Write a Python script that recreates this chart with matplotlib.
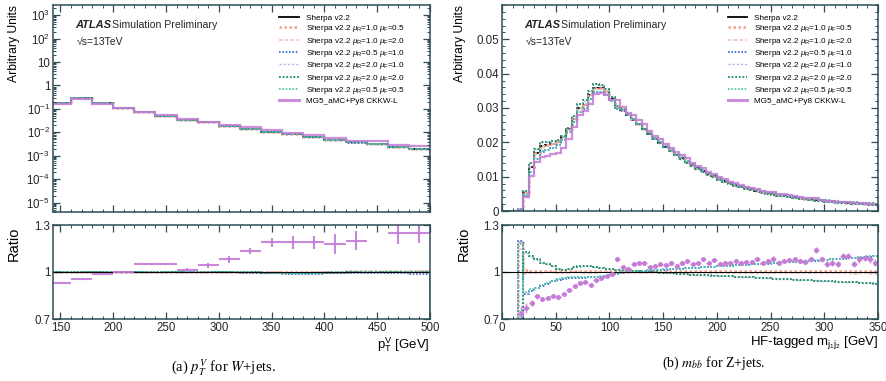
import numpy as np
import matplotlib
matplotlib.use('Agg')
from matplotlib import pyplot as plt
from matplotlib.ticker import MultipleLocator, LogLocator, FixedLocator, FuncFormatter, NullFormatter

plt.rcParams.update({'font.family': ['Liberation Sans', 'DejaVu Sans'],
                     'mathtext.fontset': 'custom',
                     'mathtext.rm': 'Liberation Sans',
                     'mathtext.it': 'Liberation Sans:italic',
                     'mathtext.bf': 'Liberation Sans:bold',
                     'mathtext.sf': 'Liberation Sans',
                     'font.size': 8})

# ---------------- (a) pT^V for W+jets, 20 GeV bins ----------------
ptv_edges = np.arange(140, 501, 20)
ptv_sherpa = [0.17, 0.28, 0.17, 0.11, 0.072, 0.052, 0.035, 0.027, 0.019,
              0.0144, 0.0107, 0.0082, 0.0063, 0.0049, 0.0037, 0.0031, 0.0024, 0.0020]
# ratios to nominal Sherpa v2.2
ptv_r1f05 = [1.0, 1.0, 1.0, 1.0, 1.0, 1.0, 1.0, 1.0, 1.0,
             1.0, 1.0, 1.0, 1.0, 1.003, 1.005, 1.005, 1.008, 1.008]
ptv_r1f2 = [1.0, 1.0, 1.0, 1.0, 1.0, 0.999, 0.999, 1.0, 1.0,
            0.998, 0.997, 0.996, 0.997, 0.998, 1.0, 1.0, 1.003, 1.004]
ptv_r05f1 = [1.0, 1.0, 1.0, 0.999, 0.998, 0.998, 0.998, 0.997, 0.997,
             0.995, 0.992, 0.99, 0.99, 0.994, 0.996, 0.996, 0.994, 0.99]
ptv_r2f1 = [1.0, 1.0, 1.0, 1.0, 1.001, 1.0, 1.0, 0.999, 0.999,
            0.998, 0.996, 0.995, 0.996, 0.997, 0.998, 1.0, 1.0, 0.997]
ptv_r2f2 = [1.0, 1.0, 1.0, 1.0, 1.0, 1.0, 0.999, 0.999, 0.998,
            0.997, 0.995, 0.994, 0.995, 0.996, 0.998, 0.999, 1.001, 1.0]
ptv_r05f05 = [1.0, 1.0, 1.0, 1.0, 1.0, 1.0, 1.0, 1.0, 0.999,
              0.998, 0.996, 0.995, 0.996, 0.997, 0.999, 1.0, 1.002, 1.002]
# MG5 / Sherpa; the 440-460 GeV point lies above the ratio range
ptv_mg5 = [0.93, 0.953, 0.985, 1.0, 1.05, 1.05, 1.013, 1.043, 1.08,
           1.135, 1.19, 1.19, 1.19, 1.18, 1.2, 1.34, 1.25, 1.25]
ptv_mg5_err = [0.003, 0.003, 0.004, 0.004, 0.008, 0.008, 0.01, 0.015, 0.02,
               0.02, 0.03, 0.04, 0.04, 0.065, 0.06, 0.02, 0.07, 0.065]

# ---------------- (b) mbb for Z+jets, 5 GeV bins ----------------
mbb_edges = np.arange(0, 351, 5)
mbb_sherpa = [0, 0, 0, 0.0004, 0.0052, 0.0128, 0.0168, 0.019, 0.0192, 0.0195,
              0.0202, 0.0215, 0.0238, 0.0268, 0.0300, 0.0310, 0.0338, 0.0358, 0.0357, 0.0348,
              0.0326, 0.0300, 0.0294, 0.0280, 0.0266, 0.0252, 0.0238, 0.0225, 0.0211, 0.0199,
              0.0187, 0.0175, 0.0164, 0.0153, 0.0143, 0.0133, 0.0124, 0.0116, 0.0108, 0.0101,
              0.0093, 0.0087, 0.0081, 0.0076, 0.0071, 0.0067, 0.0063, 0.0059, 0.0056, 0.0053,
              0.0050, 0.0047, 0.0045, 0.0042, 0.0040, 0.0038, 0.0036, 0.0034, 0.0032, 0.0031,
              0.0029, 0.0028, 0.0026, 0.0025, 0.0024, 0.0023, 0.0022, 0.0021, 0.0020, 0.0019]
mbb_r1f05 = [0, 0, 0, 1.19, 1.01, 1.005, 1.005, 1.004, 1.004, 1.004,
             1.005, 1.005, 1.004, 1.004, 1.004, 1.005, 1.005, 1.004, 1.004, 1.004,
             1.004, 1.005, 1.005, 1.005, 1.004, 1.004, 1.005, 1.005, 1.006, 1.006,
             1.006, 1.005, 1.005, 1.006, 1.006, 1.006, 1.005, 1.005, 1.006, 1.006,
             1.006, 1.007, 1.007, 1.006, 1.006, 1.007, 1.007, 1.007, 1.006, 1.006,
             1.007, 1.007, 1.008, 1.008, 1.007, 1.007, 1.008, 1.008, 1.008, 1.007,
             1.008, 1.008, 1.009, 1.009, 1.008, 1.008, 1.009, 1.009, 1.009, 1.008]
mbb_r1f2 = [0, 0, 0, 1.15, 0.99, 0.995, 0.996, 0.996, 0.997, 0.997,
            0.996, 0.996, 0.996, 0.997, 0.997, 0.996, 0.996, 0.996, 0.997, 0.997,
            0.996, 0.996, 0.995, 0.995, 0.996, 0.996, 0.995, 0.995, 0.995, 0.994,
            0.995, 0.995, 0.994, 0.994, 0.995, 0.994, 0.994, 0.994, 0.993, 0.994,
            0.994, 0.993, 0.993, 0.994, 0.993, 0.993, 0.993, 0.992, 0.993, 0.993,
            0.992, 0.992, 0.993, 0.992, 0.992, 0.992, 0.991, 0.992, 0.992, 0.991,
            0.991, 0.992, 0.991, 0.991, 0.991, 0.99, 0.991, 0.991, 0.99, 0.99]
mbb_r05f1 = [0, 0, 0, 1.2, 0.86, 0.88, 0.895, 0.91, 0.925, 0.94,
             0.95, 0.958, 0.962, 0.963, 0.962, 0.963, 0.965, 0.967, 0.971, 0.975,
             0.98, 0.988, 0.995, 0.999, 1.002, 1.005, 1.007, 1.009, 1.011, 1.013,
             1.015, 1.017, 1.019, 1.021, 1.023, 1.025, 1.027, 1.029, 1.031, 1.034,
             1.036, 1.038, 1.04, 1.042, 1.044, 1.046, 1.048, 1.05, 1.052, 1.054,
             1.057, 1.059, 1.061, 1.063, 1.065, 1.067, 1.069, 1.071, 1.073, 1.076,
             1.078, 1.08, 1.082, 1.085, 1.087, 1.089, 1.092, 1.095, 1.098, 1.1]
mbb_r2f1 = [0, 0, 0, 0.72, 1.12, 1.095, 1.075, 1.058, 1.048, 1.038,
            1.022, 1.017, 1.021, 1.029, 1.035, 1.038, 1.036, 1.032, 1.026, 1.021,
            1.019, 1.016, 1.013, 1.011, 1.008, 1.006, 1.004, 1.001, 0.999, 0.997,
            0.995, 0.993, 0.991, 0.989, 0.987, 0.985, 0.983, 0.981, 0.98, 0.978,
            0.976, 0.975, 0.973, 0.971, 0.97, 0.968, 0.967, 0.965, 0.963, 0.961,
            0.959, 0.958, 0.956, 0.955, 0.953, 0.951, 0.95, 0.948, 0.946, 0.944,
            0.942, 0.941, 0.939, 0.937, 0.936, 0.934, 0.933, 0.931, 0.929, 0.927]
mbb_r2f2 = [0, 0, 0, 0.70, 1.13, 1.10, 1.08, 1.06, 1.05, 1.04,
            1.02, 1.015, 1.02, 1.03, 1.037, 1.04, 1.037, 1.033, 1.025, 1.02,
            1.018, 1.015, 1.012, 1.01, 1.007, 1.005, 1.003, 1.0, 0.998, 0.996,
            0.994, 0.992, 0.99, 0.988, 0.986, 0.984, 0.982, 0.98, 0.979, 0.977,
            0.975, 0.974, 0.972, 0.97, 0.969, 0.967, 0.966, 0.964, 0.962, 0.96,
            0.958, 0.957, 0.955, 0.954, 0.952, 0.95, 0.949, 0.947, 0.945, 0.943,
            0.941, 0.94, 0.938, 0.936, 0.935, 0.933, 0.932, 0.93, 0.928, 0.926]
mbb_r05f05 = [0, 0, 0, 1.18, 0.87, 0.89, 0.90, 0.915, 0.93, 0.945,
              0.955, 0.962, 0.966, 0.966, 0.965, 0.965, 0.966, 0.968, 0.972, 0.976,
              0.98, 0.99, 0.997, 1.0, 1.003, 1.006, 1.008, 1.01, 1.012, 1.014,
              1.016, 1.018, 1.02, 1.022, 1.024, 1.026, 1.028, 1.03, 1.032, 1.035,
              1.037, 1.039, 1.041, 1.043, 1.045, 1.047, 1.049, 1.051, 1.053, 1.055,
              1.058, 1.06, 1.062, 1.064, 1.066, 1.068, 1.07, 1.072, 1.074, 1.077,
              1.079, 1.081, 1.083, 1.086, 1.088, 1.09, 1.093, 1.096, 1.099, 1.102]
mbb_mg5 = [np.nan, np.nan, np.nan, 0.74, 0.77, 0.80, 0.845, 0.83, 0.835, 0.845,
           0.84, 0.86, 0.885, 0.91, 0.93, 0.935, 0.92, 0.95, 0.96, 0.975,
           0.99, 1.08, 1.03, 1.02, 1.05, 1.055, 1.06, 1.03, 1.04, 1.05,
           1.045, 1.055, 1.04, 1.06, 1.07, 1.05, 1.06, 1.08, 1.055, 1.075,
           1.05, 1.06, 1.055, 1.07, 1.06, 1.065, 1.065, 1.08, 1.06, 1.07,
           1.085, 1.06, 1.07, 1.075, 1.08, 1.07, 1.065, 1.08, 1.14, 1.08,
           1.05, 1.06, 1.05, 1.1, 1.1, 1.05, 1.08, 1.09, 1.08, 1.06]
mbb_mg5_err = [np.nan, np.nan, np.nan, 0.04, 0.03, 0.02, 0.015, 0.012, 0.01, 0.01,
               0.008, 0.008, 0.008, 0.008, 0.008, 0.008, 0.008, 0.008, 0.008, 0.008,
               0.008, 0.01, 0.008, 0.008, 0.008, 0.008, 0.008, 0.008, 0.008, 0.008,
               0.01, 0.01, 0.01, 0.01, 0.01, 0.01, 0.01, 0.01, 0.01, 0.01,
               0.012, 0.012, 0.012, 0.012, 0.012, 0.012, 0.012, 0.012, 0.012, 0.012,
               0.015, 0.015, 0.015, 0.015, 0.015, 0.015, 0.015, 0.015, 0.02, 0.015,
               0.02, 0.02, 0.02, 0.02, 0.02, 0.02, 0.02, 0.02, 0.02, 0.02]

labels = ['Sherpa v2.2',
          r'Sherpa v2.2 $\mu_{\rm R}$=1.0 $\mu_{\rm F}$=0.5',
          r'Sherpa v2.2 $\mu_{\rm R}$=1.0 $\mu_{\rm F}$=2.0',
          r'Sherpa v2.2 $\mu_{\rm R}$=0.5 $\mu_{\rm F}$=1.0',
          r'Sherpa v2.2 $\mu_{\rm R}$=2.0 $\mu_{\rm F}$=1.0',
          r'Sherpa v2.2 $\mu_{\rm R}$=2.0 $\mu_{\rm F}$=2.0',
          r'Sherpa v2.2 $\mu_{\rm R}$=0.5 $\mu_{\rm F}$=0.5',
          'MG5_aMC+Py8 CKKW-L']
var_colors = ['#f3a18e', '#f6bcb6', '#2f62d6', '#a7b9ee', '#188a58', '#3fc2a6']
var_styles = [(0, (1, 1)), (0, (2, 1.5)), (0, (1, 1)), (0, (1.5, 1.5)), (0, (1, 1)), (0, (1, 1))]
var_widths = [1.8, 1.2, 1.2, 1.0, 1.3, 1.2]
mg5_color = '#c57bd6'
frame_col = '#2e4d57'
text_col = '#262626'

W, H = 886, 381
fig = plt.figure(figsize=(W / 100, H / 100), dpi=100)


def px_axes(x0, y0, x1, y1):
    return fig.add_axes([x0 / W, 1 - y1 / H, (x1 - x0) / W, (y1 - y0) / H])


def root_style(ax):
    for s in ax.spines.values():
        s.set_color(frame_col)
        s.set_linewidth(1.1)
    ax.tick_params(which='both', direction='in', top=True, right=True,
                   color=frame_col, labelcolor=text_col, labelsize=8.3, pad=2)
    ax.tick_params(which='major', length=5, width=0.9)
    ax.tick_params(which='minor', length=2.5, width=0.7)


def log_fmt(v, pos):
    e = int(round(np.log10(v)))
    if e == 0:
        return '1'
    if e == 1:
        return '10'
    return r'$\mathrm{10^{%d}}$' % e


ax_a = px_axes(53, 5, 430, 212)
ax_ar = px_axes(53, 225, 430, 319)
ax_b = px_axes(502, 5, 878, 211)
ax_br = px_axes(502, 225, 878, 319)

# ---- top panels: distributions ----
for ax, edges, nom, ratios, mg5, ylab_x in [
        (ax_a, ptv_edges, ptv_sherpa,
         [ptv_r1f05, ptv_r1f2, ptv_r05f1, ptv_r2f1, ptv_r2f2, ptv_r05f05], ptv_mg5, -0.088),
        (ax_b, mbb_edges, mbb_sherpa,
         [mbb_r1f05, mbb_r1f2, mbb_r05f1, mbb_r2f1, mbb_r2f2, mbb_r05f05], mbb_mg5, -0.095)]:
    nom = np.array(nom)
    handles = []
    h, = ax.plot([], [], color='k', lw=1.3)
    handles.append(h)
    ax.stairs(nom, edges, color='k', lw=1.3)
    for r, c, ls, lw in zip(ratios, var_colors, var_styles, var_widths):
        ax.stairs(nom * np.array(r), edges, color=c, ls=ls, lw=lw)
        h, = ax.plot([], [], color=c, ls=ls, lw=lw)
        handles.append(h)
    ax.stairs(nom * np.array(mg5), edges, color=mg5_color, lw=1.6, alpha=0.85)
    h, = ax.plot([], [], color=mg5_color, lw=2.2, alpha=0.85)
    handles.append(h)
    ax.legend(handles, labels, loc='upper left', bbox_to_anchor=(0.6, 0.955),
              frameon=False, fontsize=5.9, handlelength=2.4, handletextpad=0.85,
              labelspacing=0.16, borderpad=0, borderaxespad=0)
    root_style(ax)
    ax.tick_params(labelbottom=False)
    ax.xaxis.set_major_locator(MultipleLocator(50))
    ax.xaxis.set_minor_locator(MultipleLocator(10))
    ax.text(0.06, 0.89, 'ATLAS', transform=ax.transAxes,
            fontsize=8, fontweight='bold', fontstyle='italic', color=text_col)
    ax.text(0.157, 0.89, 'Simulation Preliminary',
            transform=ax.transAxes, fontsize=7.6, color=text_col)
    ax.text(0.062, 0.805, '\u221As=13TeV', transform=ax.transAxes, fontsize=7.5,
            color=text_col)
    ax.set_ylabel('Arbitrary Units', fontsize=8.7, loc='top')
    ax.yaxis.set_label_coords(ylab_x, 1.0)

ax_a.set_yscale('log')
ax_a.set_xlim(143, 500)
ax_a.set_ylim(4e-6, 2.7e3)
ax_a.yaxis.set_major_locator(LogLocator(base=10, numticks=20))
ax_a.yaxis.set_minor_locator(LogLocator(base=10, subs=np.arange(2, 10), numticks=20))
ax_a.yaxis.set_major_formatter(FuncFormatter(log_fmt))
ax_a.yaxis.set_minor_formatter(NullFormatter())

ax_b.set_xlim(0, 350)
ax_b.set_ylim(0, 0.06)
ax_b.yaxis.set_major_locator(FixedLocator([0, 0.01, 0.02, 0.03, 0.04, 0.05]))
ax_b.yaxis.set_minor_locator(MultipleLocator(0.002))
ax_b.yaxis.set_major_formatter(FuncFormatter(lambda v, p: '%g' % round(v, 3)))

# ---- ratio panels ----
for ax, edges, ratios, mg5, err, xlim, marker, ylab_x in [
        (ax_ar, ptv_edges,
         [ptv_r1f05, ptv_r1f2, ptv_r05f1, ptv_r2f1, ptv_r2f2, ptv_r05f05],
         ptv_mg5, ptv_mg5_err, (143, 500), False, -0.086),
        (ax_br, mbb_edges,
         [mbb_r1f05, mbb_r1f2, mbb_r05f1, mbb_r2f1, mbb_r2f2, mbb_r05f05],
         mbb_mg5, mbb_mg5_err, (0, 350), True, -0.082)]:
    ax.axhline(1.0, color='k', lw=0.8)
    for r, c, ls, lw in zip(ratios, var_colors, var_styles, var_widths):
        ax.stairs(r, edges, color=c, ls=ls, lw=lw)
    centers = 0.5 * (edges[:-1] + edges[1:])
    half = 0.5 * np.diff(edges)
    if marker:
        ax.errorbar(centers, mg5, yerr=err, xerr=half, fmt='o', ms=2.6,
                    color=mg5_color, mec=mg5_color, elinewidth=1.0, alpha=0.9)
    else:
        ax.errorbar(centers, mg5, yerr=err, xerr=half, fmt='none',
                    ecolor=mg5_color, elinewidth=1.5, alpha=0.9)
    root_style(ax)
    ax.set_xlim(*xlim)
    ax.set_ylim(0.7, 1.3)
    ax.set_yticks([0.7, 1.0, 1.3])
    ax.set_yticklabels(['0.7', '1', '1.3'])
    ax.xaxis.set_major_locator(MultipleLocator(50))
    ax.xaxis.set_minor_locator(MultipleLocator(10))
    ax.set_ylabel('Ratio', fontsize=10.5, loc='top')
    ax.yaxis.set_label_coords(ylab_x, 0.98)

ax_ar.set_xlabel(r'p$_{\rm T}^{\rm V}$ [GeV]', fontsize=9.5, loc='right', labelpad=1)
ax_br.set_xlabel(r'HF-tagged m$_{\rm j_1j_2}$ [GeV]',
                 fontsize=9.5, loc='right', labelpad=0)

# sub-figure captions (serif, with Times-like maths)
fig.text(224 / W, 1 - 368 / H, r'(a) $p_{T}^{V}$ for $W$+jets.', ha='center', va='center',
         fontsize=10.5, family='Liberation Serif', math_fontfamily='stix')
fig.text(714 / W, 1 - 363 / H, r'(b) $m_{bb}$ for Z+jets.', ha='center', va='center',
         fontsize=10, family='Liberation Serif', math_fontfamily='stix')

fig.savefig('out.png', dpi=100)
